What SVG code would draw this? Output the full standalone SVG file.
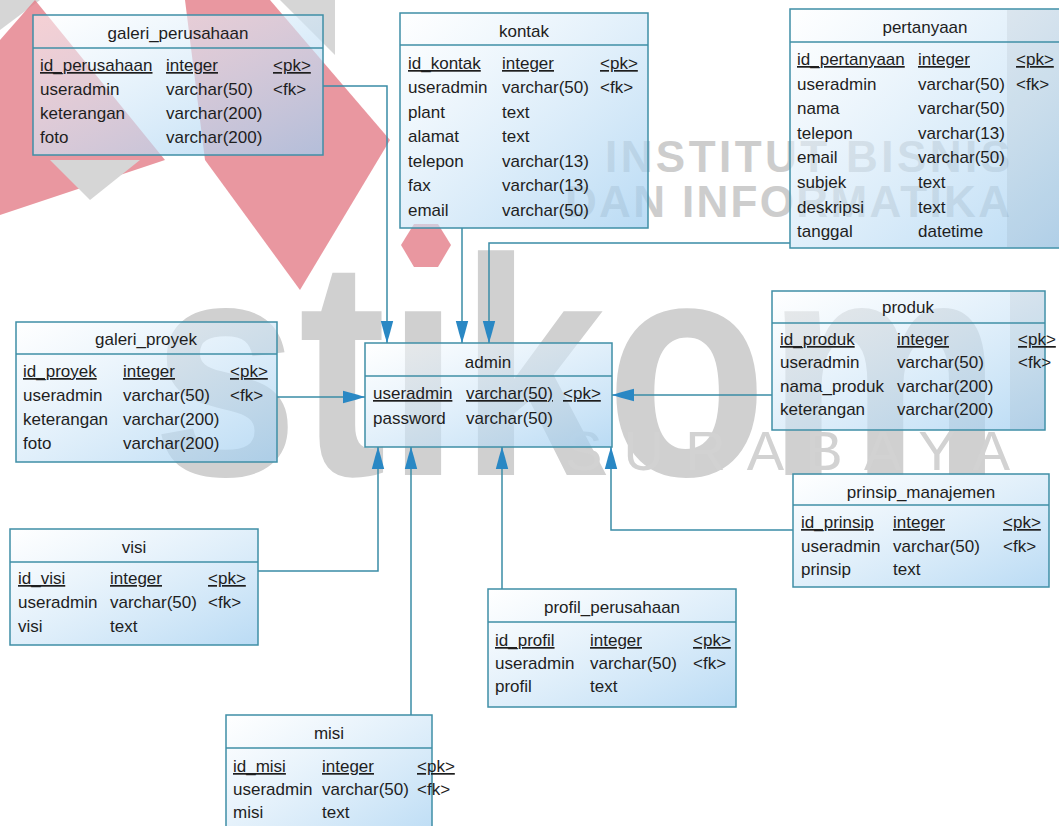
<svg xmlns="http://www.w3.org/2000/svg" width="1059" height="826" viewBox="0 0 1059 826">
<defs>
<linearGradient id="tb" x1="0" y1="0" x2="1" y2="1">
<stop offset="0" stop-color="#ffffff" stop-opacity="0.55"/>
<stop offset="1" stop-color="#9fcdf0" stop-opacity="0.72"/>
</linearGradient>
<marker id="ar" markerUnits="userSpaceOnUse" markerWidth="24" markerHeight="14" refX="22" refY="7" orient="auto" viewBox="0 0 24 14">
<path d="M22,7 L13,4.3 L0,0.8 L0,13.2 L13,9.7 Z" fill="#2a88c4"/>
</marker>
</defs>
<style>
.box{fill:url(#tb);stroke:#3f8fa6;stroke-width:1.5}
.dv{stroke:#3f8fa6;stroke-width:1.5}
text{font-family:"Liberation Sans",Arial,sans-serif;font-size:17px;fill:#1e1e1e}
.ttl{text-anchor:middle}
.u{text-decoration:underline}
.conn path{fill:none;stroke:#3a8ca6;stroke-width:1.5;marker-end:url(#ar)}
.red{fill:#e47d88;opacity:0.8}
.gry{fill:#d6d6d6}
.wm1{font-weight:bold;font-size:310px;fill:#d0d0d0}
.wm2{font-weight:bold;font-size:44px;fill:#cdcdcd}
.wm3{font-size:56px;fill:#d2d2d2}
.shade{fill:#000000;opacity:0.05}
</style>
<rect width="1059" height="826" fill="#ffffff"/>
<g id="watermark">
<polygon class="gry" points="0,0 40,0 0,30"/>
<polygon class="red" points="35,0 165,160 0,215 0,40"/>
<polygon class="red" points="185,0 270,0 390,140 300,290 205,160"/>
<polygon class="gry" points="280,0 335,0 335,55"/>
<polygon class="gry" points="50,160 140,160 90,200"/>
<text class="wm1" transform="translate(152,475) scale(0.85,1)">stıkom</text>
<polygon class="red" points="414,224 438,224 451,245 438,267 414,267 401,245"/>
<text class="wm2" x="605" y="172" textLength="405" lengthAdjust="spacing">INSTITUT BISNIS</text>
<text class="wm2" x="565" y="217" textLength="445" lengthAdjust="spacing">DAN INFORMATIKA</text>
<text class="wm3" x="565" y="470" textLength="445" lengthAdjust="spacing">SURABAYA</text>
</g>
<g class="conn" id="connectors">
<path d="M323,86 H387 V343"/>
<path d="M462,228 V343"/>
<path d="M790,243 H489 V343"/>
<path d="M277,397 H365"/>
<path d="M772,395 H612"/>
<path d="M258,571 H378 V447"/>
<path d="M411,715 V447"/>
<path d="M502,589 V447"/>
<path d="M793,530 H611 V447"/>
</g>
<g id="galeri_perusahaan">
<rect class="box" x="33" y="15" width="290" height="140"/>
<line class="dv" x1="33" y1="48" x2="323" y2="48"/>
<text class="ttl" x="178" y="39">galeri_perusahaan</text>
<text class="u" x="40" y="71">id_perusahaan</text><text class="u" x="166" y="71">integer</text><text class="u" x="273" y="71">&lt;pk&gt;</text>
<text x="40" y="95">useradmin</text><text x="166" y="95">varchar(50)</text><text x="273" y="95">&lt;fk&gt;</text>
<text x="40" y="119">keterangan</text><text x="166" y="119">varchar(200)</text>
<text x="40" y="143">foto</text><text x="166" y="143">varchar(200)</text>
</g>
<g id="kontak">
<rect class="box" x="400" y="13" width="248" height="215"/>
<line class="dv" x1="400" y1="45" x2="648" y2="45"/>
<text class="ttl" x="524" y="37">kontak</text>
<text class="u" x="408" y="69">id_kontak</text><text class="u" x="502" y="69">integer</text><text class="u" x="600" y="69">&lt;pk&gt;</text>
<text x="408" y="93">useradmin</text><text x="502" y="93">varchar(50)</text><text x="600" y="93">&lt;fk&gt;</text>
<text x="408" y="118">plant</text><text x="502" y="118">text</text>
<text x="408" y="142">alamat</text><text x="502" y="142">text</text>
<text x="408" y="167">telepon</text><text x="502" y="167">varchar(13)</text>
<text x="408" y="191">fax</text><text x="502" y="191">varchar(13)</text>
<text x="408" y="216">email</text><text x="502" y="216">varchar(50)</text>
</g>
<g id="pertanyaan">
<rect class="box" x="790" y="9" width="270" height="239"/>
<rect class="shade" x="1007" y="10" width="53" height="237"/>
<line class="dv" x1="790" y1="42" x2="1060" y2="42"/>
<text class="ttl" x="925" y="33">pertanyaan</text>
<text class="u" x="797" y="65">id_pertanyaan</text><text class="u" x="918" y="65">integer</text><text class="u" x="1016" y="65">&lt;pk&gt;</text>
<text x="797" y="90">useradmin</text><text x="918" y="90">varchar(50)</text><text x="1016" y="90">&lt;fk&gt;</text>
<text x="797" y="114">nama</text><text x="918" y="114">varchar(50)</text>
<text x="797" y="139">telepon</text><text x="918" y="139">varchar(13)</text>
<text x="797" y="163">email</text><text x="918" y="163">varchar(50)</text>
<text x="797" y="188">subjek</text><text x="918" y="188">text</text>
<text x="797" y="213">deskripsi</text><text x="918" y="213">text</text>
<text x="797" y="237">tanggal</text><text x="918" y="237">datetime</text>
</g>
<g id="galeri_proyek">
<rect class="box" x="16" y="322" width="261" height="140"/>
<line class="dv" x1="16" y1="354" x2="277" y2="354"/>
<text class="ttl" x="146" y="345">galeri_proyek</text>
<text class="u" x="23" y="377">id_proyek</text><text class="u" x="123" y="377">integer</text><text class="u" x="230" y="377">&lt;pk&gt;</text>
<text x="23" y="401">useradmin</text><text x="123" y="401">varchar(50)</text><text x="230" y="401">&lt;fk&gt;</text>
<text x="23" y="425">keterangan</text><text x="123" y="425">varchar(200)</text>
<text x="23" y="449">foto</text><text x="123" y="449">varchar(200)</text>
</g>
<g id="admin">
<rect class="box" x="365" y="343" width="247" height="104"/>
<line class="dv" x1="365" y1="376" x2="612" y2="376"/>
<text class="ttl" x="488" y="368">admin</text>
<text class="u" x="373" y="399">useradmin</text><text class="u" x="466" y="399">varchar(50)</text><text class="u" x="563" y="399">&lt;pk&gt;</text>
<text x="373" y="424">password</text><text x="466" y="424">varchar(50)</text>
</g>
<g id="produk">
<rect class="box" x="772" y="291" width="273" height="139"/>
<rect class="shade" x="1010" y="292" width="34" height="137"/>
<line class="dv" x1="772" y1="323" x2="1045" y2="323"/>
<text class="ttl" x="908" y="313">produk</text>
<text class="u" x="780" y="345">id_produk</text><text class="u" x="897" y="345">integer</text><text class="u" x="1018" y="345">&lt;pk&gt;</text>
<text x="780" y="368">useradmin</text><text x="897" y="368">varchar(50)</text><text x="1018" y="368">&lt;fk&gt;</text>
<text x="780" y="392">nama_produk</text><text x="897" y="392">varchar(200)</text>
<text x="780" y="415">keterangan</text><text x="897" y="415">varchar(200)</text>
</g>
<g id="visi">
<rect class="box" x="10" y="529" width="248" height="116"/>
<line class="dv" x1="10" y1="562" x2="258" y2="562"/>
<text class="ttl" x="134" y="553">visi</text>
<text class="u" x="18" y="584">id_visi</text><text class="u" x="110" y="584">integer</text><text class="u" x="208" y="584">&lt;pk&gt;</text>
<text x="18" y="608">useradmin</text><text x="110" y="608">varchar(50)</text><text x="208" y="608">&lt;fk&gt;</text>
<text x="18" y="632">visi</text><text x="110" y="632">text</text>
</g>
<g id="prinsip_manajemen">
<rect class="box" x="793" y="474" width="256" height="113"/>
<line class="dv" x1="793" y1="505" x2="1049" y2="505"/>
<text class="ttl" x="921" y="498">prinsip_manajemen</text>
<text class="u" x="801" y="528">id_prinsip</text><text class="u" x="893" y="528">integer</text><text class="u" x="1003" y="528">&lt;pk&gt;</text>
<text x="801" y="552">useradmin</text><text x="893" y="552">varchar(50)</text><text x="1003" y="552">&lt;fk&gt;</text>
<text x="801" y="575">prinsip</text><text x="893" y="575">text</text>
</g>
<g id="profil_perusahaan">
<rect class="box" x="488" y="589" width="248" height="118"/>
<line class="dv" x1="488" y1="622" x2="736" y2="622"/>
<text class="ttl" x="612" y="613">profil_perusahaan</text>
<text class="u" x="495" y="646">id_profil</text><text class="u" x="590" y="646">integer</text><text class="u" x="693" y="646">&lt;pk&gt;</text>
<text x="495" y="669">useradmin</text><text x="590" y="669">varchar(50)</text><text x="693" y="669">&lt;fk&gt;</text>
<text x="495" y="692">profil</text><text x="590" y="692">text</text>
</g>
<g id="misi">
<rect class="box" x="226" y="715" width="206" height="130"/>
<line class="dv" x1="226" y1="748" x2="432" y2="748"/>
<text class="ttl" x="329" y="739">misi</text>
<text class="u" x="233" y="772">id_misi</text><text class="u" x="322" y="772">integer</text><text class="u" x="417" y="772">&lt;pk&gt;</text>
<text x="233" y="795">useradmin</text><text x="322" y="795">varchar(50)</text><text x="417" y="795">&lt;fk&gt;</text>
<text x="233" y="818">misi</text><text x="322" y="818">text</text>
</g>
</svg>
